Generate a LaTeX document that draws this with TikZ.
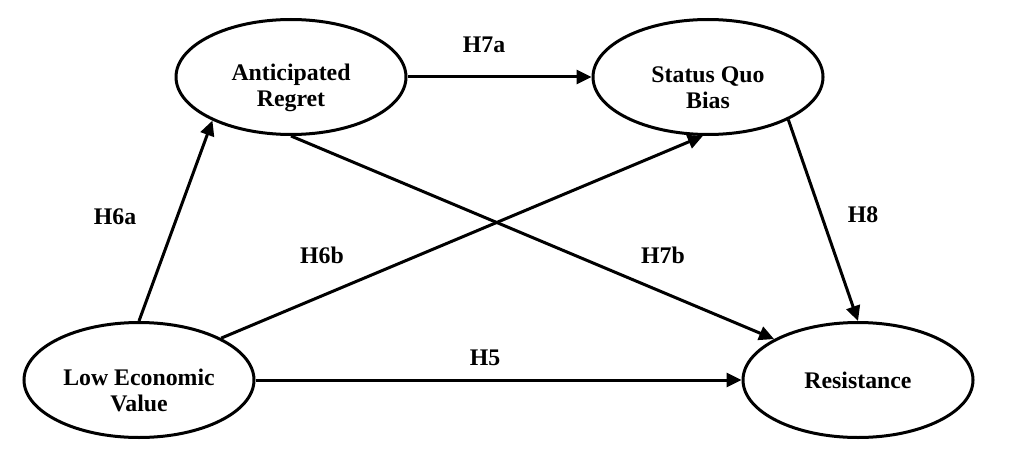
\documentclass[tikz,border=0pt]{standalone}
\usepackage{fontspec}
\setmainfont{Liberation Serif}
\usepackage{tikz}
\usetikzlibrary{arrows.meta,shapes.geometric}
\newcommand{\bajar}{\rule{0pt}{19pt}}
\tikzstyle{constructo} = [draw, ellipse, line width=1.5pt, minimum width=115pt, minimum height=57.5pt, inner sep=0pt, align=center, font=\bfseries\fontsize{11.9pt}{13pt}\selectfont]
\tikzstyle{hipotesis} = [font=\bfseries\fontsize{11.9pt}{13pt}\selectfont]
\tikzstyle{flecha} = [-{Triangle[length=7.5pt,width=7pt]}, line width=1.5pt]

\begin{document}
\begin{tikzpicture}[x=0.5pt, y=-0.5pt]
	\useasboundingbox (0,0) rectangle (1022,460);
	% constructos
	\node[constructo] (lev) at (139,380) {\bajar Low Economic\\Value};
	\node[constructo] (ar) at (291,77) {\bajar Anticipated\\Regret};
	\node[constructo] (sqb) at (708,77) {\bajar Status Quo\\Bias};
	\node[constructo] (res) at (858,380) {Resistance};
	% hipotesis
	\draw[flecha] (lev.north) -- (ar.209);
	\draw[flecha] (lev.27) -- (sqb.265);
	\draw[flecha] (lev.east) -- (res.west);
	\draw[flecha] (ar.east) -- (sqb.west);
	\draw[flecha] (ar.south) -- (res.154);
	\draw[flecha] (sqb.332) -- (res.north);
	\node[hipotesis] (h7a) at (484,45) {H7a};
	\node[hipotesis] (h6a) at (115,217) {H6a};
	\node[hipotesis] (h6b) at (322,255) {H6b};
	\node[hipotesis] (h7b) at (663,255) {H7b};
	\node[hipotesis] (h8) at (863,215) {H8};
	\node[hipotesis] (h5) at (485,358) {H5};
\end{tikzpicture}
\end{document}
